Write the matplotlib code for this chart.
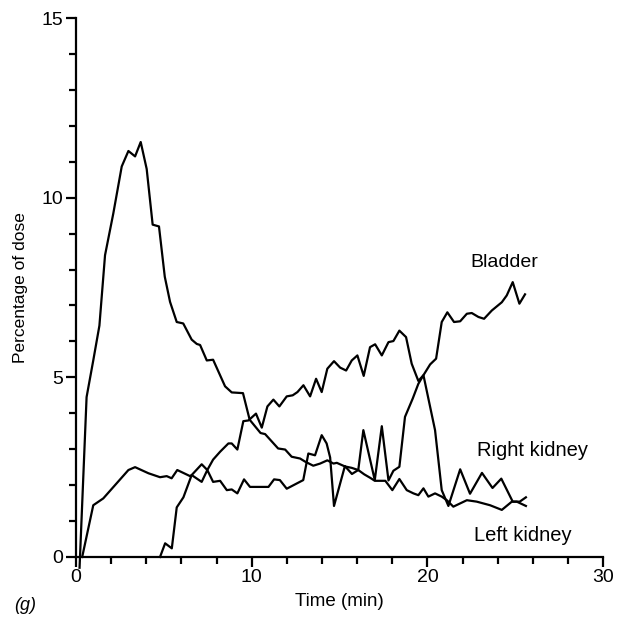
import matplotlib
matplotlib.use("Agg")
import matplotlib.pyplot as plt
from matplotlib.ticker import MultipleLocator

plt.rcParams['font.family'] = ['Liberation Sans', 'DejaVu Sans']

# curve with the early peak
peak_t = [0.2, 0.6, 0.98, 1.33, 1.65, 2.12, 2.6, 2.98, 3.36, 3.68, 4.02, 4.36, 4.72, 5.05, 5.35,
          5.73, 6.1, 6.58, 6.87, 7.06, 7.44, 7.8, 8.48, 8.86, 9.5, 9.88, 10.5, 10.76, 11.5, 11.9,
          12.27, 12.75, 13.05, 13.5, 13.89, 14.3, 14.65, 14.84, 15.3, 15.69, 16.06, 16.4, 16.75,
          17.0, 17.6, 18.0, 18.4, 18.82, 19.2, 19.48, 19.77, 20.05, 20.43, 20.81, 21.1, 21.47,
          22.24, 22.8, 23.56, 24.23, 24.8, 25.08, 25.6]
peak_y = [-0.3, 4.45, 5.47, 6.44, 8.4, 9.56, 10.87, 11.3, 11.15, 11.55, 10.8, 9.25, 9.2, 7.8, 7.1,
          6.54, 6.5, 6.05, 5.93, 5.9, 5.47, 5.49, 4.75, 4.58, 4.56, 3.82, 3.45, 3.42, 3.02, 2.99,
          2.79, 2.74, 2.65, 2.54, 2.6, 2.69, 2.6, 2.62, 2.52, 2.48, 2.42, 2.3, 2.2,
          2.12, 2.12, 1.86, 2.17, 1.86, 1.77, 1.72, 1.91, 1.68, 1.77, 1.68, 1.58, 1.4,
          1.58, 1.54, 1.44, 1.31, 1.54, 1.54, 1.42]

# low curve, spiky later
low_t = [0.35, 0.98, 1.55, 2.22, 2.98, 3.36, 4.12, 4.78, 5.16, 5.44, 5.76, 6.49, 6.58, 7.15, 7.47,
         7.8, 8.2, 8.58, 8.86, 9.18, 9.56, 9.9, 10.95, 11.27, 11.6, 11.99, 12.93, 13.22, 13.6,
         13.98, 14.26, 14.46, 14.68, 15.3, 15.7, 16.06, 16.35, 17.0, 17.4, 17.78, 18.06, 18.4,
         18.72, 19.16, 19.48, 19.77, 20.05, 20.43, 20.81, 21.19, 21.86, 22.42, 23.1, 23.7, 24.2,
         24.85, 25.25, 25.6]
low_y = [0.0, 1.44, 1.63, 2.0, 2.42, 2.5, 2.33, 2.22, 2.25, 2.19, 2.42, 2.25, 2.28, 2.09, 2.42,
         2.09, 2.12, 1.86, 1.88, 1.77, 2.16, 1.95, 1.95, 2.16, 2.14, 1.9, 2.14, 2.88, 2.83,
         3.39, 3.16, 2.77, 1.42, 2.53, 2.31, 2.42, 3.53, 2.14, 3.64, 2.13, 2.4, 2.51,
         3.9, 4.41, 4.82, 5.06, 4.41, 3.53, 1.86, 1.42, 2.44, 1.76, 2.34, 1.92, 2.18,
         1.54, 1.54, 1.66]

# rising curve
bladder_t = [4.78, 5.07, 5.45, 5.73, 6.11, 6.58, 7.15, 7.47, 7.8, 8.2, 8.67, 8.86, 9.18, 9.52, 9.81,
             10.24, 10.57, 10.89, 11.23, 11.57, 11.99, 12.33, 12.6, 12.94, 13.32, 13.66, 13.98,
             14.3, 14.68, 15.03, 15.37, 15.69, 16.01, 16.37, 16.73, 17.02, 17.4, 17.78, 18.06,
             18.4, 18.78, 19.1, 19.48, 19.77, 20.15, 20.49, 20.81, 21.13, 21.51, 21.86, 22.24,
             22.52, 22.9, 23.22, 23.66, 24.23, 24.51, 24.85, 25.23, 25.55]
bladder_y = [0.0, 0.38, 0.24, 1.38, 1.66, 2.28, 2.58, 2.42, 2.71, 2.93, 3.16, 3.16, 2.99, 3.78, 3.8,
             3.99, 3.6, 4.19, 4.38, 4.19, 4.47, 4.5, 4.59, 4.78, 4.47, 4.96, 4.59,
             5.24, 5.45, 5.27, 5.19, 5.47, 5.61, 5.04, 5.84, 5.92, 5.61, 5.98, 6.01,
             6.3, 6.12, 5.38, 4.9, 5.06, 5.36, 5.52, 6.54, 6.81, 6.54, 6.56, 6.77,
             6.79, 6.68, 6.63, 6.86, 7.09, 7.28, 7.65, 7.05, 7.31]

fig = plt.figure(figsize=(6.39, 6.34), dpi=100)
ax = fig.add_axes([0.119, 0.1215, 0.825, 0.85])

for t, y in [(peak_t, peak_y), (low_t, low_y), (bladder_t, bladder_y)]:
    ax.plot(t, y, color='black', lw=1.6, clip_on=False)

ax.set_xlim(0, 30)
ax.set_ylim(0, 15)
ax.spines['top'].set_visible(False)
ax.spines['right'].set_visible(False)
ax.spines['left'].set_linewidth(1.6)
ax.spines['bottom'].set_linewidth(1.6)
ax.xaxis.set_major_locator(MultipleLocator(10))
ax.xaxis.set_minor_locator(MultipleLocator(2))
ax.yaxis.set_major_locator(MultipleLocator(5))
ax.yaxis.set_minor_locator(MultipleLocator(1))
ax.tick_params(which='major', length=7, width=1.6, labelsize=14, pad=2)
ax.tick_params(which='minor', length=5, width=1.6)

ax.set_xlabel("Time (min)", fontsize=13.5, labelpad=5)
ax.set_ylabel("Percentage of dose", fontsize=12.5, labelpad=10)

ax.text(24.4, 8.2, "Bladder", fontsize=14, ha='center', va='center')
ax.text(26.0, 2.95, "Right kidney", fontsize=14.5, ha='center', va='center', clip_on=False)
ax.text(25.4, 0.6, "Left kidney", fontsize=14.5, ha='center', va='center')
fig.text(0.04, 0.045, "(g)", fontsize=13, style='italic', ha='center', va='center')

fig.savefig("out.png", dpi=100)
